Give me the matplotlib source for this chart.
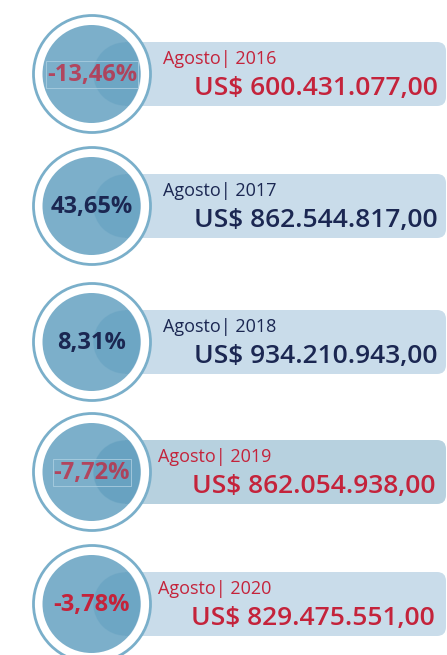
import matplotlib
matplotlib.use('Agg')
import matplotlib.pyplot as plt
from matplotlib.patches import Circle, Wedge, FancyBboxPatch, Arc

# dados
mes = 'Agosto'
anos = [2016, 2017, 2018, 2019, 2020]
variacao = [-13.46, 43.65, 8.31, -7.72, -3.78]
valores = [600431077.00, 862544817.00, 934210943.00, 862054938.00, 829475551.00]


def fmt_br(v, dec=2):
    s = f'{v:,.{dec}f}'
    return s.replace(',', 'X').replace('.', ',').replace('X', '.')


# layout (pixels)
row_y = [74, 206, 342, 472, 604]
cx = 92
text_x = [163, 163, 163, 158, 158]
val_x = [438, 438, 438, 435, 435]
bar_cols = ['#c9dcea', '#c9dcea', '#c9dcea', '#b7d1df', '#c9dcea']
faded = [True, False, False, True, False]

RED = '#c4233b'
NAVY = '#1b2752'
FILL = '#4a91b6'

plt.rcParams['font.family'] = ['Open Sans', 'DejaVu Sans']

fig = plt.figure(figsize=(4.47, 6.55), dpi=100)
ax = fig.add_axes([0, 0, 1, 1])
ax.set_xlim(0, 447)
ax.set_ylim(655, 0)
ax.set_aspect('equal')
ax.axis('off')

for i in range(len(anos)):
    cy = row_y[i]
    col = RED if variacao[i] < 0 else NAVY

    # barra
    bar = FancyBboxPatch((125, cy - 32), 321, 64,
                         boxstyle='round,pad=0,rounding_size=9',
                         fc=bar_cols[i], ec='none', zorder=1)
    ax.add_patch(bar)
    ax.add_patch(Circle((125, cy), 32, fc=bar_cols[i], ec='none', zorder=1))
    ax.add_patch(Arc((125, cy), 64, 64, theta1=90, theta2=270,
                     color='white', lw=0.8, alpha=0.6, zorder=1.5))

    # anel
    ax.add_patch(Wedge((cx, cy), 58, 0, 360, width=9, fc='white', ec='none', zorder=2))
    ax.add_patch(Circle((cx, cy), 58.5, fc='none', ec='#7aafca', lw=2.0, zorder=3))
    # circulo
    ax.add_patch(Circle((cx - 0.5, cy), 49, fc=FILL, ec='none', alpha=0.72, zorder=3))

    pct = fmt_br(variacao[i]) + '%'
    if faded[i]:
        ax.text(cx, cy + 6.5, pct, ha='center', va='baseline', fontsize=17,
                fontweight='bold', color=col, alpha=0.75, zorder=4,
                bbox=dict(boxstyle='square,pad=0.05', fc='none',
                          ec='#a9cde0', lw=0.6))
    else:
        ax.text(cx, cy + 6.5, pct, ha='center', va='baseline', fontsize=17,
                fontweight='bold', color=col, zorder=4)

    ax.text(text_x[i], cy - 10, f'{mes}| {anos[i]}', ha='left', va='baseline',
            fontsize=13, color=col, zorder=4)
    ax.text(val_x[i], cy + 21, 'US$ ' + fmt_br(valores[i]), ha='right',
            va='baseline', fontsize=19, fontweight='semibold', color=col, zorder=4)

fig.savefig('out.png', dpi=100)
